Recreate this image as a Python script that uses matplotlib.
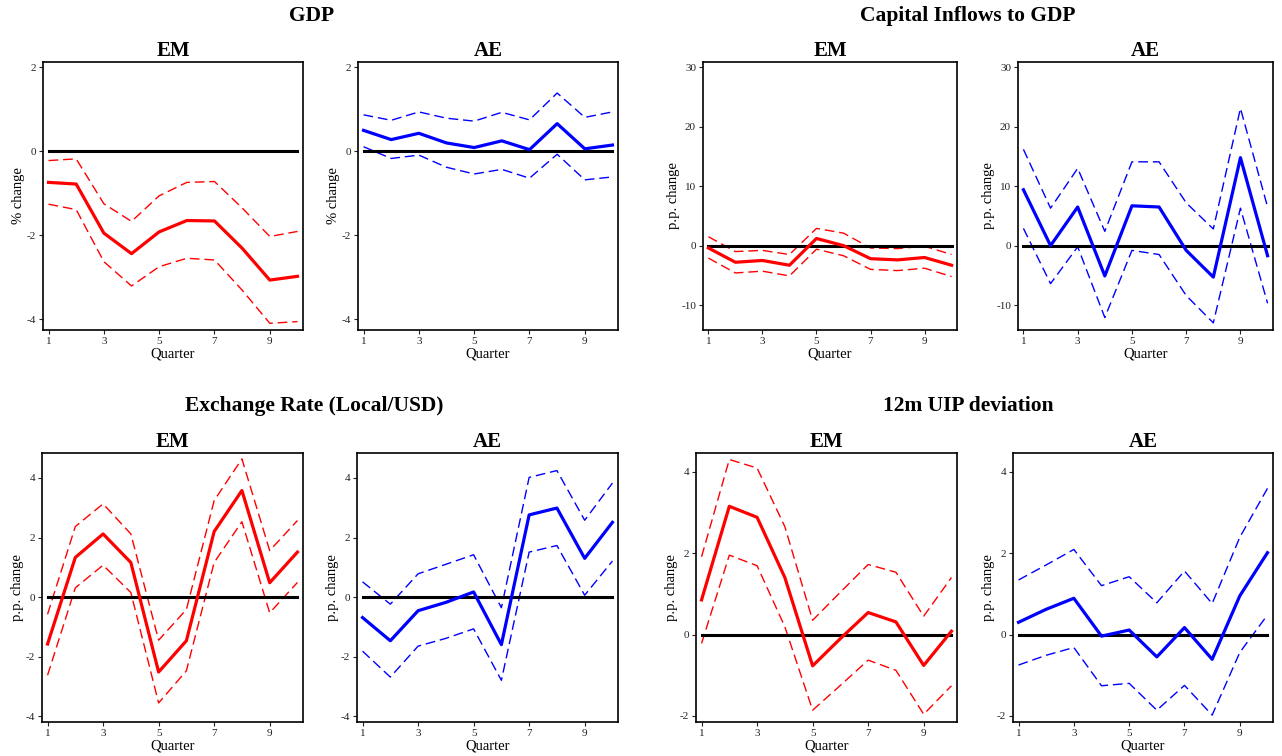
import numpy as np
import matplotlib
matplotlib.use("Agg")
import matplotlib.pyplot as plt

### DATA ###
quarters = [1, 2, 3, 4, 5, 6, 7, 8, 9, 10]

# GDP (% change)
gdp_em = [-0.74, -0.78, -1.95, -2.44, -1.92, -1.65, -1.66, -2.31, -3.07, -2.98]
gdp_em_hi = [-0.22, -0.18, -1.25, -1.67, -1.06, -0.74, -0.72, -1.35, -2.03, -1.91]
gdp_em_lo = [-1.26, -1.39, -2.63, -3.21, -2.75, -2.55, -2.59, -3.31, -4.10, -4.06]
gdp_ae = [0.50, 0.28, 0.43, 0.20, 0.09, 0.25, 0.04, 0.66, 0.06, 0.15]
gdp_ae_hi = [0.87, 0.74, 0.94, 0.79, 0.72, 0.93, 0.75, 1.39, 0.81, 0.94]
gdp_ae_lo = [0.11, -0.17, -0.09, -0.38, -0.54, -0.43, -0.64, -0.07, -0.68, -0.61]

# Capital inflows to GDP (p.p. change)
cap_em = [-0.4, -2.8, -2.5, -3.3, 1.2, 0.0, -2.2, -2.4, -2.0, -3.3]
cap_em_hi = [1.5, -1.0, -0.8, -1.5, 2.9, 2.1, -0.4, -0.5, -0.1, -1.5]
cap_em_lo = [-2.1, -4.6, -4.3, -5.1, -0.6, -1.7, -4.0, -4.2, -3.8, -5.2]
cap_ae = [9.4, 0.0, 6.5, -5.1, 6.7, 6.5, -0.8, -5.3, 14.8, -1.7]
cap_ae_hi = [16.2, 6.3, 13.0, 2.4, 14.1, 14.1, 7.2, 2.8, 23.1, 6.5]
cap_ae_lo = [2.9, -6.4, -0.2, -12.1, -0.8, -1.5, -8.4, -13.0, 6.3, -9.7]

# Exchange rate (p.p. change)
fx_em = [-1.58, 1.33, 2.12, 1.16, -2.52, -1.47, 2.20, 3.58, 0.48, 1.51]
fx_em_hi = [-0.58, 2.37, 3.13, 2.12, -1.45, -0.42, 3.24, 4.64, 1.56, 2.57]
fx_em_lo = [-2.63, 0.31, 1.07, 0.15, -3.56, -2.48, 1.16, 2.53, -0.53, 0.49]
fx_ae = [-0.69, -1.47, -0.46, -0.18, 0.17, -1.60, 2.76, 2.99, 1.30, 2.51]
fx_ae_hi = [0.51, -0.24, 0.78, 1.10, 1.42, -0.36, 4.02, 4.25, 2.58, 3.83]
fx_ae_lo = [-1.82, -2.69, -1.65, -1.39, -1.07, -2.80, 1.51, 1.73, 0.06, 1.21]

# 12m UIP deviation (p.p. change)
uip_em = [0.85, 3.15, 2.88, 1.40, -0.77, -0.10, 0.54, 0.31, -0.76, 0.08]
uip_em_hi = [1.91, 4.30, 4.09, 2.65, 0.35, 1.04, 1.72, 1.53, 0.45, 1.40]
uip_em_lo = [-0.22, 1.95, 1.69, 0.19, -1.86, -1.25, -0.63, -0.88, -1.96, -1.26]
uip_ae = [0.30, 0.62, 0.89, -0.04, 0.11, -0.55, 0.17, -0.61, 0.95, 2.01]
uip_ae_hi = [1.34, 1.71, 2.09, 1.20, 1.42, 0.78, 1.56, 0.76, 2.39, 3.59]
uip_ae_lo = [-0.75, -0.51, -0.32, -1.26, -1.20, -1.86, -1.25, -1.98, -0.44, 0.48]

### STYLE ###
plt.rcParams["font.family"] = ["Liberation Serif", "DejaVu Serif"]
plt.rcParams["axes.unicode_minus"] = False

W, H = 1282, 756


def px_axes(fig, left, right, top, bottom):
    # pixel box -> figure fraction
    return fig.add_axes([left / W, 1 - bottom / H, (right - left) / W, (bottom - top) / H])


def draw_panel(ax, mid, hi, lo, color, title, ylabel, ylim, yticks):
    ax.plot(quarters, hi, color=color, lw=1.0, dashes=(7, 3.5))
    ax.plot(quarters, lo, color=color, lw=1.0, dashes=(7, 3.5))
    ax.plot([quarters[0], quarters[-1]], [0, 0], color="black", lw=2.2)
    ax.plot(quarters, mid, color=color, lw=2.3)
    ax.set_xlim(0.8, 10.2)
    ax.set_ylim(*ylim)
    ax.set_xticks([1, 3, 5, 7, 9])
    ax.set_yticks(yticks)
    ax.tick_params(direction="out", length=3, width=0.8, labelsize=8, colors="#222222",
                   top=False, right=False, pad=2)
    for s in ax.spines.values():
        s.set_linewidth(1.2)
    ax.set_title(title, fontsize=15, fontweight="bold", pad=4)
    ax.set_xlabel("Quarter", fontsize=10.5, labelpad=1)
    ax.set_ylabel(ylabel, fontsize=10.5, labelpad=1)


fig = plt.figure(figsize=(W / 100, H / 100), dpi=100)

ax = px_axes(fig, 43, 303, 62, 330)
draw_panel(ax, gdp_em, gdp_em_hi, gdp_em_lo, "red", "EM", "% change", (-4.26, 2.13), [-4, -2, 0, 2])
ax = px_axes(fig, 358, 618, 62, 330)
draw_panel(ax, gdp_ae, gdp_ae_hi, gdp_ae_lo, "blue", "AE", "% change", (-4.26, 2.13), [-4, -2, 0, 2])

ax = px_axes(fig, 703, 957, 62, 330)
draw_panel(ax, cap_em, cap_em_hi, cap_em_lo, "red", "EM", "p.p. change", (-14.2, 30.9), [-10, 0, 10, 20, 30])
ax = px_axes(fig, 1018, 1273, 62, 330)
draw_panel(ax, cap_ae, cap_ae_hi, cap_ae_lo, "blue", "AE", "p.p. change", (-14.2, 30.9), [-10, 0, 10, 20, 30])

ax = px_axes(fig, 42, 303, 453, 722)
draw_panel(ax, fx_em, fx_em_hi, fx_em_lo, "red", "EM", "p.p. change", (-4.2, 4.84), [-4, -2, 0, 2, 4])
ax = px_axes(fig, 357, 618, 453, 722)
draw_panel(ax, fx_ae, fx_ae_hi, fx_ae_lo, "blue", "AE", "p.p. change", (-4.2, 4.84), [-4, -2, 0, 2, 4])

ax = px_axes(fig, 696, 957, 453, 722)
draw_panel(ax, uip_em, uip_em_hi, uip_em_lo, "red", "EM", "p.p. change", (-2.15, 4.46), [-2, 0, 2, 4])
ax = px_axes(fig, 1013, 1273, 453, 722)
draw_panel(ax, uip_ae, uip_ae_hi, uip_ae_lo, "blue", "AE", "p.p. change", (-2.15, 4.46), [-2, 0, 2, 4])

# group titles
fig.text(312 / W, 1 - 16 / H, "GDP", ha="center", va="center", fontsize=15.5, fontweight="bold")
fig.text(968 / W, 1 - 16 / H, "Capital Inflows to GDP", ha="center", va="center", fontsize=15.5, fontweight="bold")
fig.text(314 / W, 1 - 406 / H, "Exchange Rate (Local/USD)", ha="center", va="center", fontsize=15.5, fontweight="bold")
fig.text(968 / W, 1 - 406 / H, "12m UIP deviation", ha="center", va="center", fontsize=15.5, fontweight="bold")

fig.savefig("out.png", dpi=100)
